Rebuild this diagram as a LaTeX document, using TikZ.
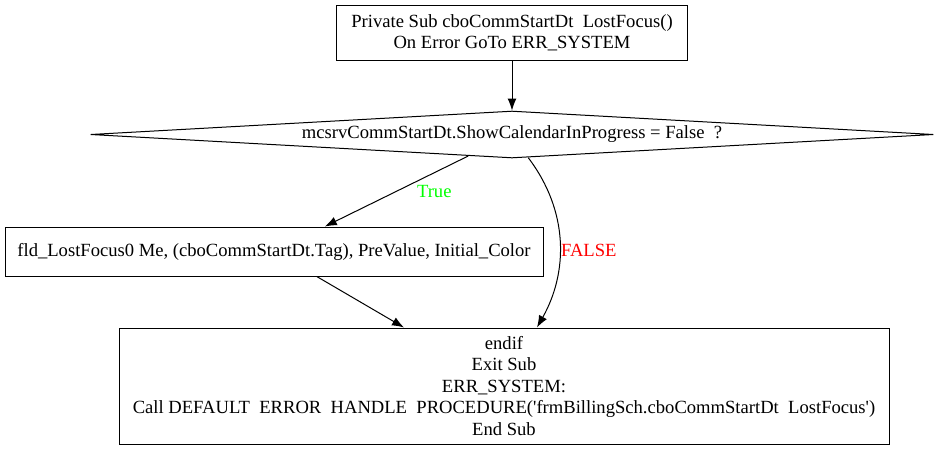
\documentclass[tikz,border=0pt]{standalone}
\usepackage{fontspec}
\setmainfont{Liberation Serif}
\usepackage{xcolor}
\definecolor{TrueGreen}{HTML}{00FF00}
\definecolor{FalseRed}{HTML}{FF0000}
\usetikzlibrary{arrows.meta,positioning,shapes.geometric}

\begin{document}
\begin{tikzpicture}[x=1pt,y=-1pt,
  node distance=50pt,
  box/.style={draw,line width=1pt,align=center,inner sep=0pt,
              font=\fontsize{18.6}{21.5}\selectfont},
  decision/.style={diamond,draw,line width=1pt,inner sep=0pt,aspect=18,
              minimum width=843pt,minimum height=47pt,
              font=\fontsize{18.6}{21.5}\selectfont},
  arrow/.style={-{Latex[length=12pt,width=9pt]},line width=1pt},
  edgelabel/.style={inner sep=0pt,font=\fontsize{18.6}{21.5}\selectfont}]
\useasboundingbox (0,0) rectangle (940,448);
\node[box,minimum width=351pt,minimum height=55pt] (start) at (512,32.5)
  {Private Sub cboCommStartDt\ \ LostFocus()\\On Error GoTo ERR\_SYSTEM};
\node[decision, below=50pt of start] (cond)
  {mcsrvCommStartDt.ShowCalendarInProgress = False\ \ ?};
\node[box,minimum width=538pt,minimum height=49pt, below=68pt of cond, xshift=-238pt] (fld)
  {fld\_LostFocus0 Me, (cboCommStartDt.Tag), PreValue, Initial\_Color};
\node[box,minimum width=770pt,minimum height=116pt, below=51pt of fld, xshift=230pt] (endsub)
  {endif\\Exit Sub\\ERR\_SYSTEM:\\
   Call DEFAULT\ \ ERROR\ \ HANDLE\ \ PROCEDURE(\textquotesingle frmBillingSch.cboCommStartDt\ \ LostFocus\textquotesingle)\\
   End Sub};
\draw[arrow] (start) -- (cond);
\draw[arrow] (cond) -- node[edgelabel,text=TrueGreen,right=20pt] (truelbl) {True} (fld);
\draw[arrow] (cond.-55) .. controls +(41,54) and +(31,-55) .. 
  node[edgelabel,text=FalseRed,pos=0.55,right=1pt] (falselbl) {FALSE}
  ([xshift=33pt]endsub.north);
\draw[arrow] (fld) -- (endsub);
\end{tikzpicture}
\end{document}
